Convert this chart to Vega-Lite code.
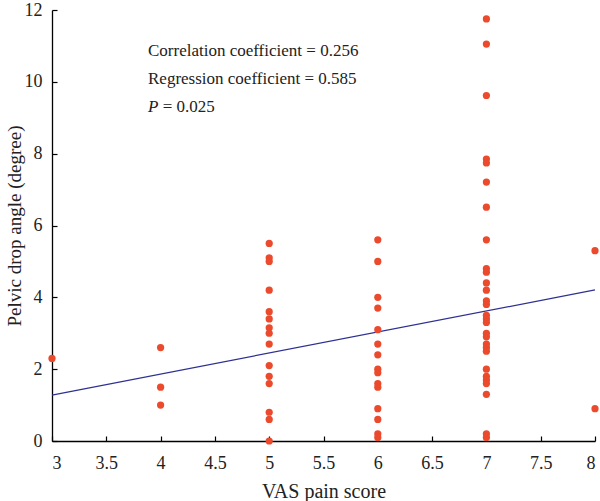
{
  "$schema": "https://vega.github.io/schema/vega-lite/v6.json",
  "width": 543,
  "height": 431,
  "autosize": "none",
  "padding": {"left": 52, "top": 10, "right": 5, "bottom": 60},
  "background": "white",
  "config": {
    "view": {"stroke": null},
    "font": "Liberation Serif",
    "axis": {
      "grid": false,
      "domainColor": "#000",
      "domainWidth": 1.3,
      "tickColor": "#000",
      "tickWidth": 1.2,
      "tickSize": -5,
      "labelFont": "Liberation Serif",
      "labelFontSize": 18,
      "labelColor": "#222",
      "titleFont": "Liberation Serif",
      "titleFontWeight": "normal",
      "titleColor": "#222"
    }
  },
  "datasets": {
    "pts": [
      {"vas": 3, "angle": 2.3},
      {"vas": 4, "angle": 2.6}, {"vas": 4, "angle": 1.5}, {"vas": 4, "angle": 1.0},
      {"vas": 5, "angle": 5.5}, {"vas": 5, "angle": 5.1}, {"vas": 5, "angle": 5.0},
      {"vas": 5, "angle": 4.2}, {"vas": 5, "angle": 3.6}, {"vas": 5, "angle": 3.4},
      {"vas": 5, "angle": 3.15}, {"vas": 5, "angle": 3.0}, {"vas": 5, "angle": 2.7},
      {"vas": 5, "angle": 2.1}, {"vas": 5, "angle": 1.8}, {"vas": 5, "angle": 1.6},
      {"vas": 5, "angle": 0.8}, {"vas": 5, "angle": 0.6}, {"vas": 5, "angle": 0.0},
      {"vas": 6, "angle": 5.6}, {"vas": 6, "angle": 5.0}, {"vas": 6, "angle": 4.0},
      {"vas": 6, "angle": 3.7}, {"vas": 6, "angle": 3.1}, {"vas": 6, "angle": 2.7},
      {"vas": 6, "angle": 2.4}, {"vas": 6, "angle": 2.0}, {"vas": 6, "angle": 1.9},
      {"vas": 6, "angle": 1.6}, {"vas": 6, "angle": 1.5}, {"vas": 6, "angle": 0.9},
      {"vas": 6, "angle": 0.6}, {"vas": 6, "angle": 0.2}, {"vas": 6, "angle": 0.1},
      {"vas": 7, "angle": 11.75}, {"vas": 7, "angle": 11.05}, {"vas": 7, "angle": 9.62},
      {"vas": 7, "angle": 7.85}, {"vas": 7, "angle": 7.74}, {"vas": 7, "angle": 7.21},
      {"vas": 7, "angle": 6.51}, {"vas": 7, "angle": 5.6}, {"vas": 7, "angle": 4.8},
      {"vas": 7, "angle": 4.7}, {"vas": 7, "angle": 4.4}, {"vas": 7, "angle": 4.2},
      {"vas": 7, "angle": 3.9}, {"vas": 7, "angle": 3.8}, {"vas": 7, "angle": 3.5},
      {"vas": 7, "angle": 3.4}, {"vas": 7, "angle": 3.3}, {"vas": 7, "angle": 3.0},
      {"vas": 7, "angle": 2.9}, {"vas": 7, "angle": 2.7}, {"vas": 7, "angle": 2.6},
      {"vas": 7, "angle": 2.5}, {"vas": 7, "angle": 2.0}, {"vas": 7, "angle": 1.8},
      {"vas": 7, "angle": 1.7}, {"vas": 7, "angle": 1.6}, {"vas": 7, "angle": 1.3},
      {"vas": 7, "angle": 0.2}, {"vas": 7, "angle": 0.1},
      {"vas": 8, "angle": 5.3}, {"vas": 8, "angle": 0.9}
    ],
    "fit": [
      {"vas": 3, "angle": 1.28},
      {"vas": 8, "angle": 4.205}
    ],
    "notes": [
      {"vas": 3.884, "angle": 10.85, "label": "Correlation coefficient = 0.256"},
      {"vas": 3.884, "angle": 10.07, "label": "Regression coefficient = 0.585"}
    ],
    "pnote": [
      {"vas": 3.884, "angle": 9.29, "label": "P"}
    ],
    "pval": [
      {"vas": 4.02, "angle": 9.29, "label": "= 0.025"}
    ]
  },
  "layer": [
    {
      "data": {"name": "fit"},
      "mark": {"type": "line", "color": "#2e3192", "strokeWidth": 1.3},
      "encoding": {
        "x": {"field": "vas", "type": "quantitative", "scale": {"domain": [3, 8], "nice": false},
              "axis": {"title": "VAS pain score", "titleFontSize": 20, "format": "~g", "values": [3, 3.5, 4, 4.5, 5, 5.5, 6, 6.5, 7, 7.5, 8], "labelPadding": 18, "titlePadding": 9}},
        "y": {"field": "angle", "type": "quantitative", "scale": {"domain": [0, 12], "nice": false},
              "axis": {"title": "Pelvic drop angle (degree)", "titleFontSize": 19, "values": [0, 2, 4, 6, 8, 10, 12], "labelPadding": 15, "titlePadding": 0}}
      }
    },
    {
      "data": {"name": "pts"},
      "mark": {"type": "circle", "color": "#ec4a2c", "opacity": 1, "size": 52, "clip": false},
      "encoding": {
        "x": {"field": "vas", "type": "quantitative"},
        "y": {"field": "angle", "type": "quantitative"}
      }
    },
    {
      "data": {"name": "notes"},
      "mark": {"type": "text", "align": "left", "baseline": "middle", "fontSize": 17, "font": "Liberation Serif", "color": "#222"},
      "encoding": {
        "x": {"field": "vas", "type": "quantitative"},
        "y": {"field": "angle", "type": "quantitative"},
        "text": {"field": "label"}
      }
    },
    {
      "data": {"name": "pnote"},
      "mark": {"type": "text", "align": "left", "baseline": "middle", "fontSize": 17, "font": "Liberation Serif", "fontStyle": "italic", "color": "#222"},
      "encoding": {
        "x": {"field": "vas", "type": "quantitative"},
        "y": {"field": "angle", "type": "quantitative"},
        "text": {"field": "label"}
      }
    },
    {
      "data": {"name": "pval"},
      "mark": {"type": "text", "align": "left", "baseline": "middle", "fontSize": 17, "font": "Liberation Serif", "color": "#222"},
      "encoding": {
        "x": {"field": "vas", "type": "quantitative"},
        "y": {"field": "angle", "type": "quantitative"},
        "text": {"field": "label"}
      }
    }
  ]
}
